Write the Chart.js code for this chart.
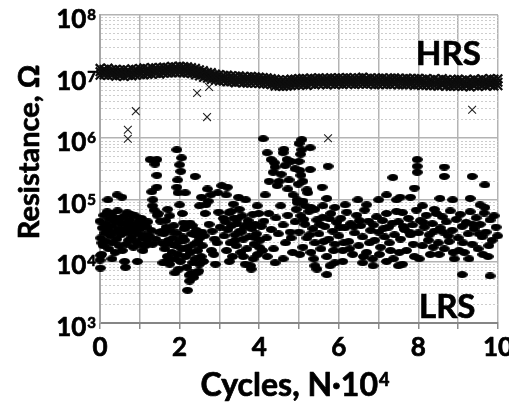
<!DOCTYPE html>
<html>
<head>
<meta charset="utf-8">
<script src="https://cdn.jsdelivr.net/npm/chart.js@4"></script>
<style>
  html, body { margin: 0; padding: 0; background: #fff; }
</style>
</head>
<body>
<canvas id="resChart" width="509" height="403"></canvas>
<script>
/* ====== DATA ====== */

// axis labels
const xTickLabels = [0, 2, 4, 6, 8, 10];
const yExponents = [3, 4, 5, 6, 7, 8];

// HRS band, MOhm (upper edge / middle / lower edge of the band)
const hrsCycles = [
  0.0, 0.1, 0.2, 0.3, 0.4, 0.5, 0.6, 0.7, 0.8, 0.9,
  1.0, 1.1, 1.2, 1.3, 1.4, 1.5, 1.6, 1.7, 1.8, 1.9,
  2.0, 2.1, 2.2, 2.3, 2.4, 2.5, 2.6, 2.7, 2.8, 2.9,
  3.0, 3.1, 3.2, 3.3, 3.4, 3.5, 3.6, 3.7, 3.8, 3.9,
  4.0, 4.1, 4.2, 4.3, 4.4, 4.5, 4.6, 4.7, 4.8, 4.9,
  5.0, 5.1, 5.2, 5.3, 5.4, 5.5, 5.6, 5.7, 5.8, 5.9,
  6.0, 6.1, 6.2, 6.3, 6.4, 6.5, 6.6, 6.7, 6.8, 6.9,
  7.0, 7.1, 7.2, 7.3, 7.4, 7.5, 7.6, 7.7, 7.8, 7.9,
  8.0, 8.1, 8.2, 8.3, 8.4, 8.5, 8.6, 8.7, 8.8, 8.9,
  9.0, 9.1, 9.2, 9.3, 9.4, 9.5, 9.6, 9.7, 9.8, 9.9,
  10.0
];
const hrsUpperMOhm = [
  13.6, 13.2, 13.8, 13.0, 13.1, 12.9, 13.0, 12.8, 13.4, 13.1,
  13.5, 13.9, 13.4, 14.0, 13.9, 14.1, 14.3, 14.2, 14.7, 14.5,
  14.8, 14.6, 14.5, 14.0, 13.6, 12.9, 12.5, 11.8, 11.6, 11.0,
  10.8, 10.5, 10.6, 10.3, 10.2, 10.3, 10.0, 9.9, 10.1, 9.9,
  9.8, 9.7, 9.6, 9.3, 9.1, 8.9, 8.8, 8.9, 9.1, 9.1,
  9.3, 9.4, 9.2, 9.5, 9.4, 9.6, 9.4, 9.4, 9.6, 9.5,
  9.6, 9.5, 9.7, 9.5, 9.5, 9.6, 9.8, 9.4, 9.6, 9.4,
  9.5, 9.6, 9.3, 9.5, 9.6, 9.4, 9.2, 9.5, 9.3, 9.3,
  9.4, 9.1, 9.3, 9.0, 9.2, 8.9, 9.3, 9.0, 8.8, 9.0,
  9.1, 8.8, 9.0, 8.7, 9.1, 8.8, 9.2, 8.9, 9.3, 9.1,
  9.2
];
const hrsMidMOhm = [
  12.0, 11.8, 12.0, 11.7, 11.5, 11.6, 11.4, 11.5, 11.7, 11.8,
  12.0, 12.2, 12.0, 12.3, 12.5, 12.4, 12.7, 12.8, 13.0, 13.0,
  13.2, 13.0, 12.8, 12.5, 12.0, 11.5, 11.0, 10.5, 10.2, 9.8,
  9.5, 9.4, 9.3, 9.2, 9.0, 9.1, 8.9, 8.8, 8.9, 8.8,
  8.7, 8.6, 8.5, 8.3, 8.0, 7.9, 7.8, 7.9, 8.0, 8.1,
  8.2, 8.3, 8.2, 8.4, 8.3, 8.5, 8.4, 8.3, 8.5, 8.4,
  8.5, 8.4, 8.6, 8.5, 8.4, 8.5, 8.6, 8.4, 8.5, 8.3,
  8.4, 8.5, 8.3, 8.4, 8.5, 8.3, 8.2, 8.4, 8.3, 8.2,
  8.3, 8.1, 8.2, 8.0, 8.1, 7.9, 8.2, 8.0, 7.8, 7.9,
  8.0, 7.8, 7.9, 7.7, 8.0, 7.8, 8.1, 7.9, 8.2, 8.0,
  8.1
];
const hrsLowerMOhm = [
  10.5, 10.6, 10.4, 10.5, 10.1, 10.3, 10.0, 10.4, 10.2, 10.5,
  10.7, 10.6, 10.8, 10.9, 11.2, 10.9, 11.3, 11.4, 11.5, 11.6,
  11.7, 11.5, 11.3, 11.1, 10.6, 10.2, 9.7, 9.4, 9.0, 8.7,
  8.4, 8.4, 8.2, 8.2, 7.9, 8.1, 7.9, 7.8, 7.8, 7.8,
  7.7, 7.6, 7.5, 7.4, 7.0, 7.0, 6.9, 7.0, 7.1, 7.2,
  7.3, 7.3, 7.2, 7.5, 7.3, 7.5, 7.5, 7.3, 7.5, 7.4,
  7.5, 7.4, 7.6, 7.6, 7.4, 7.5, 7.6, 7.5, 7.5, 7.3,
  7.4, 7.5, 7.4, 7.4, 7.5, 7.3, 7.3, 7.4, 7.4, 7.2,
  7.3, 7.2, 7.2, 7.1, 7.1, 7.0, 7.3, 7.0, 6.9, 7.0,
  7.0, 6.9, 7.0, 6.8, 7.1, 6.9, 7.1, 7.0, 7.3, 7.0,
  7.1
];

// HRS points that fell out of the band, MOhm
const hrsOutCycles = [0.70, 0.70, 0.90, 2.44, 2.74, 2.69, 5.73, 9.35];
const hrsOutMOhm   = [1.37, 0.98, 2.75, 5.4, 6.8, 2.2, 1.0, 2.9];

// LRS scatter, kOhm
const lrsCycles = [
  0.00, 0.02, 0.04, 0.06, 0.08, 0.10, 0.12, 0.14, 0.16, 0.18,
  0.20, 0.22, 0.24, 0.26, 0.28, 0.30, 0.32, 0.34, 0.36, 0.38,
  0.40, 0.42, 0.44, 0.46, 0.48, 0.50, 0.52, 0.54, 0.56, 0.58,
  0.00, 0.01, 0.02, 0.20, 0.43, 0.55, 0.62, 0.64, 0.05, 0.30,
  0.60, 0.62, 0.64, 0.66, 0.68, 0.70, 0.72, 0.74, 0.76, 0.78,
  0.80, 0.82, 0.84, 0.86, 0.88, 0.90, 0.92, 0.94, 0.96, 0.98,
  1.00, 1.02, 1.04, 1.06, 1.08, 1.10, 1.12, 1.14, 1.16, 1.18,
  1.20, 1.24, 1.28, 1.32, 1.36, 1.40, 1.44, 1.48, 1.52, 1.56,
  1.26, 1.43, 1.38, 1.43, 1.43, 1.30, 1.33, 1.32, 1.46, 1.55,
  1.60, 1.63, 1.66, 1.69, 1.72, 1.75, 1.78, 1.81, 1.84, 1.87,
  1.90, 1.93, 1.96, 1.99, 2.02, 2.05, 2.08, 1.62, 1.70, 1.80,
  1.93, 2.05, 2.00, 2.03, 1.95, 1.93, 1.96, 2.14, 2.00, 2.07,
  1.65, 1.75, 1.85, 2.39, 2.10, 1.70, 1.88, 1.98, 2.12, 1.58,
  2.12, 2.15, 2.18, 2.21, 2.24, 2.27, 2.30, 2.33, 2.36, 2.39,
  2.42, 2.45, 2.48, 2.51, 2.54, 2.57, 2.20, 2.25, 2.30, 2.35,
  2.14, 2.26, 2.38, 2.50, 2.44, 2.56, 2.60, 2.32, 2.18, 2.46,
  2.62, 2.66, 2.70, 2.74, 2.78, 2.82, 2.86, 2.90, 2.94, 2.98,
  2.50, 2.55, 2.64, 2.72, 2.80, 2.88, 2.96, 3.02, 3.06, 3.10,
  3.12, 3.15, 3.18, 3.21, 3.24, 3.27, 3.30, 3.33, 3.36, 3.39,
  3.42, 3.45, 3.48, 3.51, 3.54, 3.57, 3.60, 3.63, 3.66, 3.69,
  3.72, 3.75, 3.78, 3.81, 3.84, 3.87, 3.90, 3.93, 3.96, 3.99,
  4.02, 4.05, 4.08, 3.20, 3.35, 3.50, 3.65, 3.80, 3.95, 3.17,
  3.25, 3.40, 3.55, 3.70, 3.85, 4.00, 3.30, 3.60, 3.90, 3.45,
  4.10, 4.20, 4.30, 4.40, 4.50, 4.60, 4.70, 4.80, 4.90, 4.55,
  4.15, 4.25, 4.35, 4.45, 4.65, 4.75, 4.85, 4.72, 4.38, 4.62,
  4.12, 4.18, 4.24, 4.30, 4.36, 4.42, 4.48, 4.54, 4.60, 4.66,
  4.72, 4.78, 4.84, 4.90, 4.96, 4.20, 4.40, 4.60, 4.80, 4.95,
  5.07, 5.00, 5.07, 5.28, 5.00, 5.28, 5.73, 5.58, 5.20, 5.22,
  5.70, 7.36, 6.48, 7.20, 6.16, 6.70, 5.04, 5.10, 7.00, 7.45,
  5.00, 5.05, 5.10, 5.15, 5.20, 5.25, 5.30, 5.35, 5.40, 5.45,
  5.50, 5.55, 5.60, 5.65, 5.70, 5.75, 5.80, 5.85, 5.90, 5.95,
  6.00, 6.05, 6.10, 6.15, 6.20, 6.25, 6.30, 6.35, 6.40, 6.45,
  6.50, 6.55, 6.60, 6.65, 6.70, 6.75, 6.80, 6.85, 6.90, 6.95,
  7.00, 7.05, 7.10, 7.15, 7.20, 7.25, 7.30, 7.35, 7.40, 7.45,
  5.02, 5.27, 5.52, 5.77, 6.02, 6.27, 6.52, 6.77, 7.02, 7.27,
  5.12, 5.37, 5.62, 5.87, 6.12, 6.37, 6.62, 6.87, 7.12, 7.37,
  5.40, 5.70, 5.78, 6.86, 7.50, 5.45, 6.10, 6.60, 7.20, 5.90,
  7.97, 7.97, 7.97, 7.90, 8.65, 8.65, 9.35, 9.67, 7.54, 7.80,
  8.54, 8.86, 9.30, 8.10, 8.40, 9.55, 9.67, 9.10, 9.80, 7.60,
  7.50, 7.55, 7.60, 7.65, 7.70, 7.75, 7.80, 7.85, 7.90, 7.95,
  8.00, 8.05, 8.10, 8.15, 8.20, 8.25, 8.30, 8.35, 8.40, 8.45,
  8.50, 8.55, 8.60, 8.65, 8.70, 8.75, 8.80, 8.85, 8.90, 8.95,
  9.00, 9.05, 9.10, 9.15, 9.20, 9.25, 9.30, 9.35, 9.40, 9.45,
  9.50, 9.55, 9.60, 9.65, 9.70, 9.75, 9.80, 9.85, 9.90, 9.95,
  7.52, 7.77, 8.02, 8.27, 8.52, 8.77, 9.02, 9.27, 9.52, 9.77,
  7.62, 7.87, 8.12, 8.37, 8.62, 8.87, 9.12, 9.37, 9.62, 9.99,
  5.02, 5.05, 4.98, 5.10, 5.15, 4.93, 5.30, 5.40, 5.60, 5.90
];
const lrsKOhm = [
  45, 24, 13, 35, 18, 56, 29, 40, 21, 64,
  33, 16, 48, 26, 60, 38, 20, 52, 30, 14,
  44, 23, 66, 34, 18, 50, 27, 41, 15, 32,
  10.5, 7.8, 12.5, 100, 120, 110, 10, 8, 20, 11,
  54, 29, 42, 19, 62, 36, 22, 47, 30, 58,
  25, 40, 17, 33, 55, 21, 39, 10, 28, 46,
  19, 34, 50, 24, 15, 42, 27, 18, 37, 22,
  44, 26, 32, 19, 68, 23, 56, 30, 45, 31,
  450, 450, 380, 250, 160, 135, 100, 80, 60, 20,
  28, 16, 36, 12, 22, 9, 31, 14, 24, 11,
  18, 29, 13, 21, 10, 16, 25, 19, 10, 19,
  650, 480, 370, 290, 210, 160, 130, 130, 83, 60,
  46, 55, 38, 240, 42, 70, 6.5, 7.5, 34, 9.5,
  22, 12, 8, 17, 6, 14, 28, 9.5, 19, 11,
  32, 15, 7, 24, 12, 18, 3.4, 4.8, 6.5, 5.5,
  36, 42, 27, 9, 6.5, 30, 10, 38, 16, 21,
  26, 83, 150, 40, 120, 31, 13, 9, 20, 63,
  80, 110, 60, 95, 15, 23, 130, 36, 170, 50,
  26, 44, 15, 33, 62, 20, 38, 12, 50, 27,
  18, 41, 110, 31, 14, 55, 23, 36, 100, 16,
  46, 25, 8.5, 34, 58, 19, 40, 28, 13, 60,
  22, 37, 15, 160, 85, 70, 9, 7.5, 80, 120,
  10, 22, 30, 40, 11, 17, 65, 12, 24, 49,
  980, 580, 450, 340, 200, 580, 450, 420, 320, 260,
  120, 200, 280, 170, 360, 210, 120, 150, 400, 660,
  45, 24, 60, 33, 16, 51, 28, 80, 39, 20,
  56, 30, 14, 44, 90, 12, 9.5, 11, 24, 100,
  950, 820, 650, 700, 420, 310, 350, 160, 145, 130,
  105, 230, 100, 120, 83, 83, 550, 200, 100, 100,
  30, 55, 17, 40, 24, 65, 14, 34, 20, 47,
  28, 16, 52, 37, 12, 23, 60, 31, 19, 43,
  26, 50, 15, 35, 63, 21, 41, 13, 29, 56,
  18, 38, 25, 68, 14, 45, 32, 11, 22, 53,
  30, 17, 46, 25, 60, 36, 15, 42, 27, 65,
  13, 27, 40, 49, 36, 16, 46, 20, 13, 20,
  48, 11, 21, 15, 20, 37, 12, 39, 34, 11,
  8.5, 6.1, 8.5, 8.5, 8.5, 7.5, 10, 9.5, 10, 9.5,
  450, 350, 280, 155, 340, 240, 240, 175, 110, 110,
  105, 100, 105, 80, 70, 83, 75, 6.1, 5.8, 9,
  44, 23, 62, 33, 15, 50, 27, 39, 12, 68,
  29, 46, 18, 36, 56, 22, 13, 41, 31, 60,
  20, 35, 53, 16, 44, 26, 66, 32, 11, 48,
  24, 58, 37, 14, 43, 28, 64, 19, 34, 51,
  16, 40, 25, 61, 30, 12, 47, 22, 55, 36,
  14, 30, 11, 27, 13, 21, 15, 11, 28, 18,
  37, 19, 43, 17, 30, 14, 20, 40, 13, 26,
  300, 250, 180, 95, 80, 70, 75, 70, 80, 75
];

/* ====== HELPERS ====== */

const FONT = 'Lato, "Liberation Sans", sans-serif';

function ellipseMarker(w, h) {
  const c = document.createElement('canvas');
  c.width = w; c.height = h;
  const g = c.getContext('2d');
  g.fillStyle = '#000';
  g.beginPath();
  g.ellipse(w / 2, h / 2, w / 2, h / 2, 0, 0, Math.PI * 2);
  g.fill();
  return c;
}

function isDecade(v) {
  const l = Math.log10(v);
  return Math.abs(l - Math.round(l)) < 1e-9;
}

// bold text, a hairline stroke makes it as heavy as the original
function heavyText(ctx, str, x, y) {
  ctx.fillText(str, x, y);
  ctx.strokeText(str, x, y);
}

// tick labels, axis titles and the HRS / LRS notes
const labelPlugin = {
  id: 'labelPlugin',
  afterDraw(chart) {
    const { ctx, scales: { x, y } } = chart;
    ctx.save();
    ctx.fillStyle = '#000';
    ctx.strokeStyle = '#000';
    ctx.lineWidth = 0.7;
    ctx.lineJoin = 'round';
    ctx.textBaseline = 'alphabetic';

    // x tick labels
    ctx.font = `bold 26px ${FONT}`;
    ctx.textAlign = 'center';
    xTickLabels.forEach(v => heavyText(ctx, String(v), x.getPixelForValue(v), y.bottom + 33));

    // y tick labels 10^n
    ctx.textAlign = 'right';
    yExponents.forEach(e => {
      const py = y.getPixelForValue(Math.pow(10, e));
      ctx.font = `bold 15px ${FONT}`;
      const supW = ctx.measureText(String(e)).width;
      heavyText(ctx, String(e), x.left - 4, py + 5);
      ctx.font = `bold 26px ${FONT}`;
      heavyText(ctx, '10', x.left - 5 - supW, py + 13);
    });

    // x title with superscript
    ctx.textAlign = 'left';
    ctx.font = `bold 32px ${FONT}`;
    const baseW = ctx.measureText('Cycles, N·10').width;
    ctx.font = `bold 18px ${FONT}`;
    const supW = ctx.measureText('4').width;
    const x0 = 295 - (baseW + 1 + supW) / 2;
    ctx.font = `bold 32px ${FONT}`;
    heavyText(ctx, 'Cycles, N·10', x0, 396);
    ctx.font = `bold 18px ${FONT}`;
    heavyText(ctx, '4', x0 + baseW + 1, 386);

    // y title
    ctx.save();
    ctx.translate(39, 152);
    ctx.rotate(-Math.PI / 2);
    ctx.textAlign = 'center';
    ctx.font = `bold 29px ${FONT}`;
    heavyText(ctx, 'Resistance, Ω', 0, 0);
    ctx.restore();

    // state notes
    ctx.textAlign = 'left';
    ctx.font = `bold 33px ${FONT}`;
    heavyText(ctx, 'HRS', 416, 65);
    heavyText(ctx, 'LRS', 419, 318);
    ctx.restore();
  }
};

/* ====== CHART ====== */

const toPoints = (xs, ys, k) => xs.map((c, i) => ({ x: c, y: ys[i] * k }));

const hrsBand = [
  ...toPoints(hrsCycles, hrsUpperMOhm, 1e6),
  ...toPoints(hrsCycles, hrsMidMOhm, 1e6),
  ...toPoints(hrsCycles, hrsLowerMOhm, 1e6)
];

new Chart(document.getElementById('resChart').getContext('2d'), {
  type: 'scatter',
  data: {
    datasets: [{
      label: 'HRS',
      data: hrsBand,
      pointStyle: 'crossRot',
      pointRadius: 6,
      borderColor: '#0d0d0d',
      borderWidth: 2.2,
      clip: false
    }, {
      label: 'HRS outliers',
      data: toPoints(hrsOutCycles, hrsOutMOhm, 1e6),
      pointStyle: 'crossRot',
      pointRadius: 5.5,
      borderColor: '#222',
      borderWidth: 1.1,
      clip: false
    }, {
      label: 'LRS',
      data: toPoints(lrsCycles, lrsKOhm, 1e3),
      pointStyle: ellipseMarker(11, 7),
      pointRadius: 5,
      clip: false
    }]
  },
  options: {
    responsive: false,
    animation: false,
    devicePixelRatio: 1,
    layout: { padding: { left: 100, right: 11, top: 15, bottom: 74 } },
    plugins: { legend: { display: false }, tooltip: { enabled: false } },
    scales: {
      x: {
        type: 'linear', min: 0, max: 10,
        ticks: { display: false, stepSize: 1 },
        grid: { color: '#b3b3b3', lineWidth: 1.5, tickLength: 6, tickColor: '#8c8c8c' },
        border: { color: '#868686', width: 2 }
      },
      y: {
        type: 'logarithmic', min: 1e3, max: 1e8,
        afterBuildTicks: (scale) => {
          scale.ticks = scale.ticks.filter(t => {
            const m = t.value / Math.pow(10, Math.floor(Math.log10(t.value) + 1e-9));
            return Math.abs(m - Math.round(m)) < 1e-6;
          });
        },
        ticks: { display: false, autoSkip: false },
        grid: {
          drawTicks: false,
          color: c => (c.tick && isDecade(c.tick.value)) ? '#b3b3b3' : '#cdcdcd',
          lineWidth: c => (c.tick && isDecade(c.tick.value)) ? 1.5 : 1
        },
        border: {
          color: '#a6a6a6', width: 2,
          dash: c => (c.tick && !isDecade(c.tick.value)) ? [2, 2] : []
        }
      }
    }
  },
  plugins: [labelPlugin]
});
</script>
</body>
</html>
